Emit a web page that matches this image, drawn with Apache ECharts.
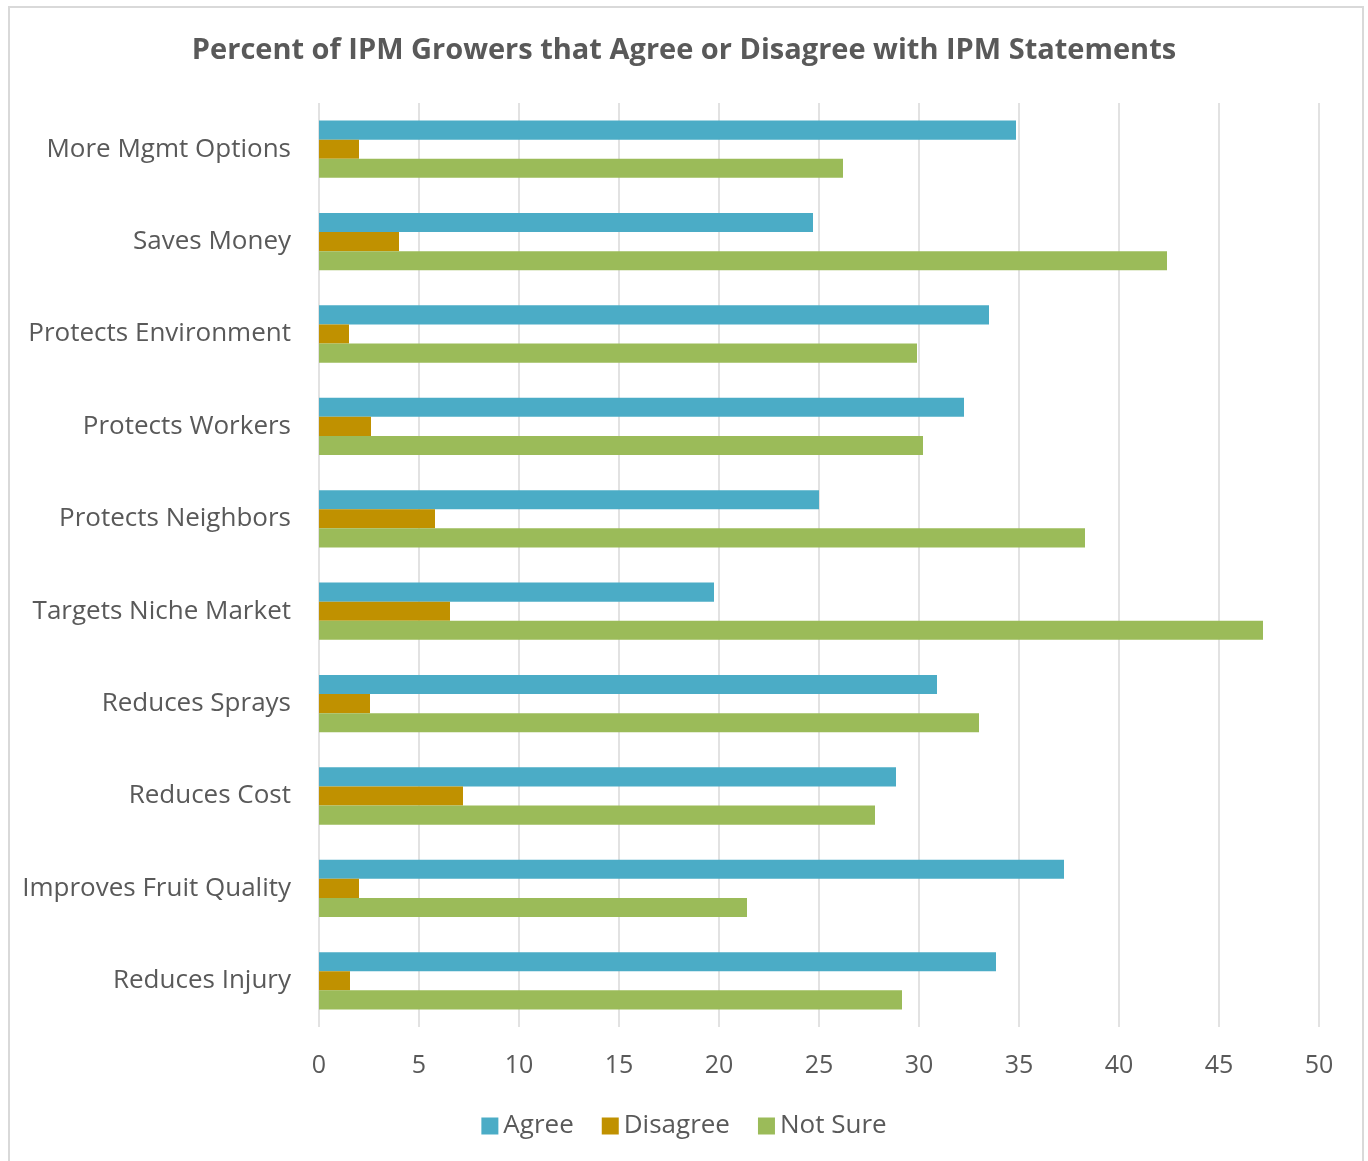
<!DOCTYPE html>
<html>
<head>
<meta charset="utf-8">
<script src="https://cdn.jsdelivr.net/npm/echarts@6/dist/echarts.min.js"></script>
<style>
  html, body { margin: 0; padding: 0; background: #fff; }
  #frame { position: absolute; left: 8px; top: 6px; width: 1352px; height: 1170px; border: 2px solid #d9d9d9; }
  #chart { position: absolute; left: 0; top: 0; width: 1368px; height: 1161px; }
</style>
</head>
<body>
<div id="frame"></div>
<div id="chart"></div>
<script>
// categories, top to bottom
var categories = [
  "More Mgmt Options",
  "Saves Money",
  "Protects Environment",
  "Protects Workers",
  "Protects Neighbors",
  "Targets Niche Market",
  "Reduces Sprays",
  "Reduces Cost",
  "Improves Fruit Quality",
  "Reduces Injury"
];
var agree    = [34.85, 24.7, 33.5, 32.25, 25.0, 19.75, 30.9, 28.85, 37.25, 33.85];
var disagree = [2.0, 4.0, 1.5, 2.6, 5.8, 6.55, 2.55, 7.2, 2.0, 1.55];
var notSure  = [26.2, 42.4, 29.9, 30.2, 38.3, 47.2, 33.0, 27.8, 21.4, 29.15];
var seriesNames = ["Agree", "Disagree", "Not Sure"];
var colors = ["#4BACC6", "#C09100", "#9BBB59"];

var font = "'Open Sans', 'Noto Sans', sans-serif";
var chart = echarts.init(document.getElementById("chart"));

var option = {
  animation: false,
  color: colors,
  title: {
    text: "Percent of IPM Growers that Agree or Disagree with IPM Statements",
    left: "center",
    top: 31,
    textStyle: { color: "#595959", fontWeight: "bold", fontSize: 29, fontFamily: font }
  },
  legend: {
    data: seriesNames,
    bottom: 17,
    left: "center",
    itemWidth: 17,
    itemHeight: 17,
    itemGap: 28,
    icon: "rect",
    textStyle: { color: "#595959", fontSize: 26, fontFamily: font }
  },
  grid: { left: 319, right: 49, top: 103, bottom: 134 },
  xAxis: {
    type: "value",
    min: 0,
    max: 50,
    interval: 5,
    axisLine: { show: false },
    axisTick: { show: false },
    axisLabel: { color: "#595959", fontSize: 25, fontFamily: font, margin: 26 },
    splitLine: { lineStyle: { color: "#d9d9d9", width: 1.5 } }
  },
  yAxis: {
    type: "category",
    inverse: true,
    data: categories,
    axisLine: { show: false },
    axisTick: { show: false },
    axisLabel: { color: "#595959", fontSize: 26, fontFamily: font, margin: 28, padding: [4, 0, 0, 0] }
  },
  series: [
    { name: seriesNames[0], type: "bar", data: agree, barGap: "0%", barCategoryGap: "38%" },
    { name: seriesNames[1], type: "bar", data: disagree, barGap: "0%", barCategoryGap: "38%" },
    { name: seriesNames[2], type: "bar", data: notSure, barGap: "0%", barCategoryGap: "38%" }
  ]
};

chart.setOption(option);
window.addEventListener("resize", function () { chart.resize(); });
</script>
</body>
</html>
